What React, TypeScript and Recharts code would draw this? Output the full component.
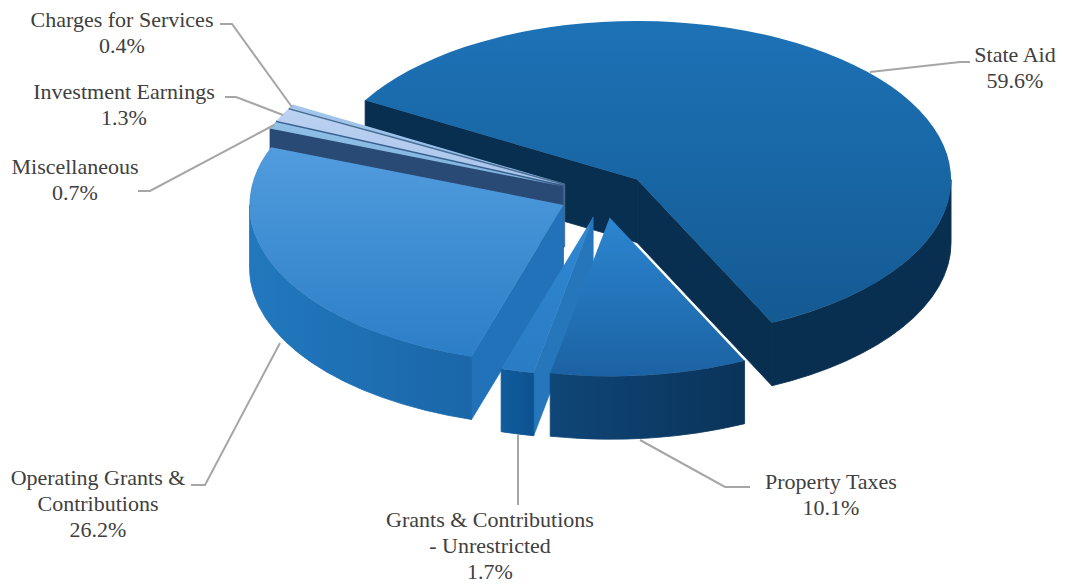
import React from 'react';
import { PieChart, Pie } from 'recharts';

// revenue shares in percent, clockwise from the State Aid slice
const sliceNames = [
  'State Aid',
  'Property Taxes',
  'Grants & Contributions - Unrestricted',
  'Operating Grants & Contributions',
  'Miscellaneous',
  'Investment Earnings',
  'Charges for Services',
];
const sliceValues = [59.6, 10.1, 1.7, 26.2, 0.7, 1.3, 0.4];
const labelLines = [
  ['State Aid'],
  ['Property Taxes'],
  ['Grants & Contributions', '- Unrestricted'],
  ['Operating Grants &', 'Contributions'],
  ['Miscellaneous'],
  ['Investment Earnings'],
  ['Charges for Services'],
];

const shares = sliceNames.map((name, i) => ({ name, value: sliceValues[i] }));

const WIDTH = 1065;
const HEIGHT = 585;
const CX = 604;
const CY = 195;
const RADIUS = 314;
const TILT = 0.505;
const DEPTH = 63;
const EXPLODE = 45;

// back to front, so nearer slices cover the walls of those behind
const paintOrder = [0, 6, 5, 4, 3, 2, 1];

const sliceStyles = [
  { top: ['#1d72b6', '#145a93'], rim: ['#082e50', '#082e50'], side: '#082e50' },
  { top: ['#2c86d0', '#1b62a3'], rim: ['#0f4677', '#0a3359'], side: '#0a3359' },
  { top: ['#2f87d2', '#2a7cc4'], rim: ['#115c9d', '#0d5290'], side: '#2676bc' },
  { top: ['#519cdd', '#2c7ec7'], rim: ['#2278be', '#1a66a8'], side: '#2172b8' },
  { top: ['#8fbfe6', '#7fb3de'], rim: ['#27476f', '#27476f'], side: '#2a4a76' },
  { top: ['#bcd2f2', '#a8c4ec'], rim: ['#46709c', '#46709c'], side: '#38608c' },
  { top: ['#a4c6ec', '#94bbe6'], rim: ['#5f86ad', '#5f86ad'], side: '#4a7096' },
];

// leader line and text anchor of each label
const labelLayout = [
  { line: '870,72 960,62 970,62', x: 1015, y: 62 },
  { line: '640,440 725,487 750,487', x: 831, y: 489 },
  { line: '518,435 518,505', x: 490, y: 527 },
  { line: '280,343 205,485 191,485', x: 98, y: 485 },
  { line: '274,125 150,191 138,191', x: 75, y: 174 },
  { line: '283,115 236,97 225,97', x: 124, y: 99 },
  { line: '292,107 232,24 220,24', x: 122, y: 27 },
];

const rad = (deg: number) => (deg * Math.PI) / 180;

// tilted disc: clockwise screen angle and radius to page coordinates
const project = (cx: number, cy: number, deg: number, r: number) => ({
  x: cx + r * Math.cos(rad(deg)),
  y: cy + r * TILT * Math.sin(rad(deg)),
});

const makeSlice = (layer: number) => (props: any) => {
  if (props.index !== layer) return null;
  const { cx, cy, outerRadius, startAngle, endAngle } = props;
  const r = outerRadius;
  const b = r * TILT;
  // recharts angles run counter-clockwise, the disc code uses screen angles
  const start = -startAngle;
  const end = -endAngle;
  const apex = project(cx, cy, (start + end) / 2, EXPLODE);
  const a = project(apex.x, apex.y, start, r);
  const z = project(apex.x, apex.y, end, r);
  const large = end - start > 180 ? 1 : 0;
  const style = sliceStyles[layer];

  const wall = (p: { x: number; y: number }) =>
    `M${apex.x},${apex.y} L${p.x},${p.y} L${p.x},${p.y + DEPTH} L${apex.x},${apex.y + DEPTH} Z`;

  const from = Math.max(start, 0);
  const to = Math.min(end, 180);
  let rim = '';
  if (to > from) {
    const p = project(apex.x, apex.y, from, r);
    const q = project(apex.x, apex.y, to, r);
    rim = `M${p.x},${p.y} A${r},${b} 0 0 1 ${q.x},${q.y} L${q.x},${q.y + DEPTH} A${r},${b} 0 0 0 ${p.x},${p.y + DEPTH} Z`;
  }

  // thin strokes close the hairline seams between neighbouring faces
  return (
    <g>
      {Math.cos(rad(start)) < 0 && <path d={wall(a)} fill={style.side} stroke={style.side} strokeWidth={0.8} />}
      {Math.cos(rad(end)) > 0 && <path d={wall(z)} fill={style.side} stroke={style.side} strokeWidth={0.8} />}
      {rim && <path d={rim} fill={`url(#rim-${layer})`} stroke={`url(#rim-${layer})`} strokeWidth={0.8} />}
      <path
        d={`M${apex.x},${apex.y} L${a.x},${a.y} A${r},${b} 0 ${large} 1 ${z.x},${z.y} Z`}
        fill={`url(#top-${layer})`}
      />
    </g>
  );
};

const renderLabel = (props: any) => {
  const { index, value } = props;
  const spot = labelLayout[index];
  const rows = [...labelLines[index], `${value}%`];
  return (
    <g>
      <polyline points={spot.line} fill="none" stroke="#a6a6a6" strokeWidth={2} />
      {rows.map((row, i) => (
        <text
          key={row}
          x={spot.x}
          y={spot.y + i * 26}
          textAnchor="middle"
          fontFamily="'Liberation Serif', serif"
          fontSize={22}
          fill="#404040"
        >
          {row}
        </text>
      ))}
    </g>
  );
};

const noSlice = () => null;

const App: React.FC = () => {
  const pieProps = {
    data: shares,
    dataKey: 'value',
    nameKey: 'name',
    cx: CX,
    cy: CY,
    outerRadius: RADIUS,
    startAngle: 150,
    endAngle: -210,
    stroke: 'none',
    isAnimationActive: false,
  };
  return (
    <div style={{ position: 'absolute', left: 0, top: 0, width: WIDTH, height: HEIGHT, background: '#fff' }}>
      <PieChart width={WIDTH} height={HEIGHT} margin={{ top: 0, right: 0, bottom: 0, left: 0 }}>
        <defs>
          {sliceStyles.map((style, i) => (
            <React.Fragment key={i}>
              <linearGradient id={`top-${i}`} x1="0" y1="0" x2="0" y2="1">
                <stop offset="0%" stopColor={style.top[0]} />
                <stop offset="100%" stopColor={style.top[1]} />
              </linearGradient>
              <linearGradient id={`rim-${i}`} x1="0" y1="0" x2="1" y2="0">
                <stop offset="0%" stopColor={style.rim[0]} />
                <stop offset="100%" stopColor={style.rim[1]} />
              </linearGradient>
            </React.Fragment>
          ))}
        </defs>
        {paintOrder.map((layer) => (
          <Pie key={layer} {...pieProps} shape={makeSlice(layer)} label={false} labelLine={false} />
        ))}
        <Pie {...pieProps} shape={noSlice} label={renderLabel} labelLine={false} />
      </PieChart>
    </div>
  );
};

export default App;
